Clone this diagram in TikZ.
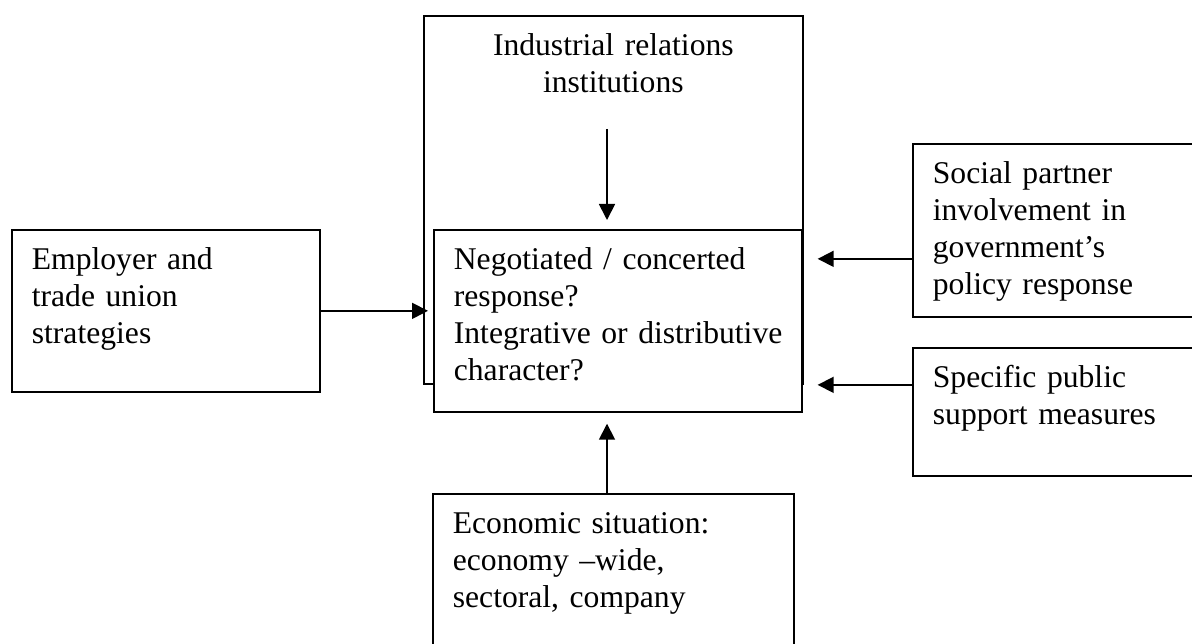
\documentclass[tikz,border=0pt]{standalone}
\usepackage{fontspec}
\setmainfont{Liberation Serif}
\usetikzlibrary{arrows.meta}

\tikzset{
  factor/.style={draw, line width=1pt, fill=white, anchor=north west,
    inner xsep=0.4cm, inner ysep=0pt, text height=0.8cm, align=left,
    font=\fontsize{18}{21}\selectfont},
  arr/.style={-{Triangle[length=0.32cm,width=0.32cm]}, line width=1pt}
}

\begin{document}
\begin{tikzpicture}[x=0.02cm, y=-0.02cm]
  \useasboundingbox (0,0) rectangle (1192,644);
  \clip (0,0) rectangle (1192,644);

  % institutions frame, the response box sits inside it
  \node[factor, align=center, text width=6.78cm, text depth=6.56cm] (inst) at (423,15) {Industrial relations\\institutions};
  \node[factor, text width=6.56cm, text depth=2.84cm] (resp) at (433,229) {Negotiated / concerted\\response?\\\mbox{Integrative or distributive}\\character?};

  \node[factor, text width=5.36cm, text depth=2.44cm] (emp) at (11,229) {Employer and\\trade union\\strategies};
  \node[factor, text width=5.2cm, text depth=2.66cm] (soc) at (912,143) {Social partner\\involvement in\\government’s\\policy response};
  \node[factor, text width=5.2cm, text depth=1.76cm] (pub) at (912,347) {Specific public\\support measures};
  \node[factor, text width=6.42cm, text depth=2.4cm] (econ) at (432,493) {Economic situation:\\economy –wide,\\sectoral, company};

  \coordinate (instarr) at (607,129);

  \draw[arr, shorten >=0.18cm] (instarr) -- (instarr |- resp.north);
  \draw[arr, shorten >=0.22cm] (econ.north -| instarr) -- (instarr |- resp.south);
  \draw[arr, shorten >=0.1cm] (emp.east) -- (emp.east -| resp.west);
  \draw[arr, shorten >=0.3cm] ([yshift=-0.57cm]soc.west) -- ([yshift=-0.57cm]soc.west -| resp.east);
  \draw[arr, shorten >=0.3cm] ([yshift=0.54cm]pub.west) -- ([yshift=0.54cm]pub.west -| resp.east);
\end{tikzpicture}
\end{document}
